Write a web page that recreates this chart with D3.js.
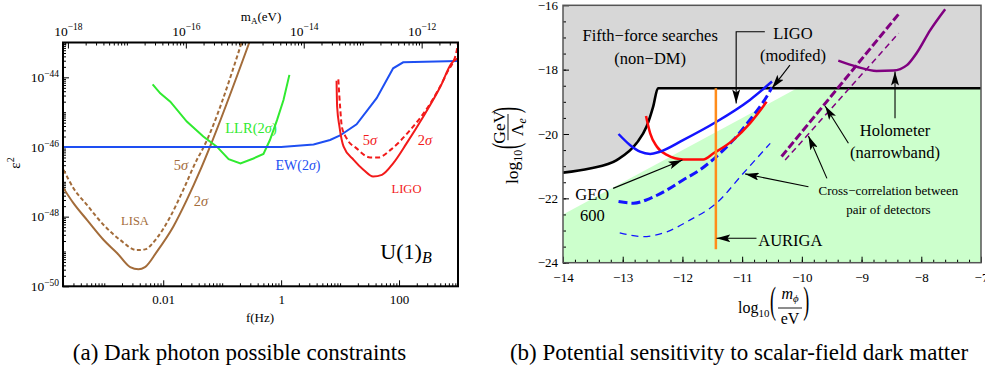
<!DOCTYPE html>
<html>
<head>
<meta charset="utf-8">
<script src="https://cdn.jsdelivr.net/npm/d3@7"></script>
<style>
  body { margin: 0; background: #fff; }
  svg { display: block; }
  svg text { font-family: "Liberation Serif", "Tinos", "Times New Roman", "DejaVu Serif", "Noto Serif", serif !important; }
</style>
</head>
<body>
<svg id="chart" width="985" height="371"></svg>
<script>
// ---------- panel (a): values are [log10 f(Hz), log10 eps^2] ----------
const lisa2sigma = [[-3.69,-47.19],[-3.52,-47.62],[-3.29,-48.10],[-3.01,-48.67],[-2.78,-49.05],[-2.56,-49.45],[-2.42,-49.51],[-2.31,-49.45],[-2.11,-49.01],[-1.83,-48.29],[-1.60,-47.52],[-1.37,-46.66],[-1.23,-46.09],[-0.54,-43.0]];
const lisa5sigma = [[-3.69,-46.66],[-3.52,-47.19],[-3.29,-47.67],[-3.01,-48.24],[-2.73,-48.67],[-2.45,-48.96],[-2.31,-48.94],[-2.11,-48.62],[-1.88,-48.0],[-1.66,-47.23],[-1.43,-46.37],[-1.34,-46.09],[-0.67,-43.0]];
const llr2sigma = [[-2.18,-44.20],[-2.05,-44.46],[-1.88,-44.70],[-1.60,-45.27],[-1.32,-45.70],[-1.09,-45.99],[-0.89,-46.35],[-0.69,-46.47],[-0.47,-46.33],[-0.30,-46.20],[-0.19,-45.80],[-0.07,-45.23],[0.04,-44.65],[0.14,-43.93]];
const ew2sigma = [[-3.7,-46.0],[0.0,-46.0],[0.55,-45.93],[0.83,-45.8],[1.0,-45.67],[1.28,-45.35],[1.62,-44.6],[1.9,-43.74],[2.07,-43.57],[3.0,-43.53]];
const ligo5sigma = [[0.97,-44.06],[1.0,-44.84],[1.03,-45.42],[1.11,-45.75],[1.28,-46.04],[1.51,-46.30],[1.65,-46.30],[1.85,-46.09],[2.19,-45.51],[2.53,-44.75],[2.81,-43.88],[2.98,-43.22],[3.0,-43.0]];
const ligo2sigma = [[0.94,-44.10],[0.95,-44.84],[0.99,-45.42],[1.06,-45.99],[1.23,-46.37],[1.40,-46.66],[1.56,-46.85],[1.71,-46.80],[1.90,-46.47],[2.13,-45.89],[2.41,-45.13],[2.70,-44.27],[2.89,-43.60],[3.0,-43.45]];

const aYTicks = [-50, -48, -46, -44];          // exponents of eps^2
const aXTicks = [0.01, 1, 100];               // Hz
const aTopTicks = [-18, -16, -14, -12];       // exponents of m_A (eV)

// ---------- panel (b): values are [log10 m_phi/eV, log10 GeV/Lambda_e] ----------
const fifthForce = [[-14,-21.2],[-13.55,-21.07],[-13.1,-20.81],[-12.77,-20.29],[-12.6,-19.77],[-12.49,-19.15],[-12.41,-18.58],[-7,-18.58]];
const dmRegion = [[-14,-22.5],[-10.08,-18.58],[-7,-18.58]];
const ligoBlue = [[-13.07,-20.0],[-12.88,-20.34],[-12.71,-20.55],[-12.54,-20.62],[-12.38,-20.55],[-11.99,-20.19],[-11.43,-19.62],[-10.87,-18.94],[-10.5,-18.37]];
const ligoRed = [[-12.61,-19.44],[-12.54,-19.98],[-12.43,-20.39],[-12.26,-20.65],[-11.99,-20.79],[-11.65,-20.79],[-11.48,-20.60],[-11.15,-20.19],[-10.87,-19.67],[-10.59,-19.0]];
const geoThick = [[-13.07,-22.10],[-12.82,-22.15],[-12.54,-22.0],[-12.26,-21.74],[-11.99,-21.43],[-11.71,-21.12],[-11.43,-20.70],[-11.15,-20.19],[-10.87,-19.56],[-10.59,-18.84],[-10.5,-18.55]];
const geoThin = [[-13.05,-23.07],[-12.66,-23.19],[-12.26,-23.04],[-11.87,-22.67],[-11.43,-22.15],[-10.98,-21.22],[-10.53,-20.29]];
const auriga = [[-11.44,-18.58],[-11.44,-23.58]];
const crossThick = [[-10.34,-20.70],[-8.36,-16.23]];
const crossThin = [[-10.28,-20.81],[-8.38,-16.87]];
const holometer = [[-9.39,-17.72],[-9.08,-17.91],[-8.75,-18.04],[-8.47,-18.03],[-8.24,-17.86],[-8.08,-17.49],[-7.85,-16.77],[-7.6,-16.12]];

const bXTicks = [-14, -13, -12, -11, -10, -9, -8, -7];
const bYTicks = [-24, -22, -20, -18, -16];

const SERIF = "Liberation Serif, Tinos, Times New Roman, DejaVu Serif, serif";
const svg = d3.select("#chart").attr("font-family", SERIF);

svg.append("defs").append("marker")
  .attr("id", "arr")
  .attr("viewBox", "0 0 14 8")
  .attr("refX", 14).attr("refY", 4)
  .attr("markerWidth", 14).attr("markerHeight", 8)
  .attr("markerUnits", "userSpaceOnUse")
  .attr("orient", "auto")
  .append("path").attr("d", "M0,0 L14,4 L0,8 L3,4 Z").attr("fill", "#000");

function sup(t, base, e, small) {
  t.text(null);
  t.append("tspan").text(base);
  t.append("tspan").attr("dy", "-0.55em").attr("font-size", small).text("\u2212" + Math.abs(e));
}

// ================= panel (a) =================
const hPlanck = 4.1357e-15;
var xA = d3.scaleLog().domain([Math.pow(10, -3.7), 1e3]).range([63, 458]),
    yA = d3.scaleLog().domain([1e-50, 1e-43]).range([286.3, 42.5]),
    xTop = d3.scaleLog().domain([Math.pow(10, -3.7) * hPlanck, 1e3 * hPlanck]).range([63, 458]);

const ga = svg.append("g");

function logMinor(lo, hi, skip) {
  const v = [];
  for (let k = Math.floor(lo); k <= Math.ceil(hi); k++)
    for (let m = 1; m < 10; m++) {
      const t = m * Math.pow(10, k), l = Math.log10(t);
      if (l >= lo && l <= hi && !skip(k, m)) v.push(t);
    }
  return v;
}

// minor ticks
ga.append("g").attr("transform", "translate(0,286.3)")
  .call(d3.axisBottom(xA).tickValues(logMinor(-3.7, 3, (k, m) => m == 1 && k % 2 == 0)).tickSize(-3).tickFormat(""))
  .call(g => g.select(".domain").remove());
ga.append("g").attr("transform", "translate(63,0)")
  .call(d3.axisLeft(yA).tickValues(logMinor(-50, -43, (k, m) => m == 1 && k % 2 == 0)).tickSize(-3).tickFormat(""))
  .call(g => g.select(".domain").remove());
ga.append("g").attr("transform", "translate(0,42.5)")
  .call(d3.axisTop(xTop).tickValues(logMinor(-18.08, -11.38, (k, m) => m == 1 && k % 2 == 0)).tickSize(-3).tickFormat(""))
  .call(g => g.select(".domain").remove());

// major ticks + labels
ga.append("g").attr("transform", "translate(0,286.3)")
  .call(d3.axisBottom(xA).tickValues(aXTicks).tickSizeInner(-6).tickSizeOuter(0).tickPadding(8)
    .tickFormat(d => d < 1 ? "0.01" : d3.format("d")(d)))
  .attr("font-size", 13).attr("font-family", SERIF)
  .call(g => g.select(".domain").remove());

ga.append("g").attr("transform", "translate(63,0)")
  .call(d3.axisLeft(yA).tickValues(aYTicks.map(e => Math.pow(10, e))).tickSizeInner(-6).tickSizeOuter(0).tickPadding(4))
  .attr("font-size", 13.5).attr("font-family", SERIF)
  .call(g => g.select(".domain").remove())
  .call(g => g.selectAll(".tick text").each(function (d) {
    sup(d3.select(this), "10", Math.round(Math.log10(d)), 9.5);
  }));

ga.append("g").attr("transform", "translate(0,42.5)")
  .call(d3.axisTop(xTop).tickValues(aTopTicks.map(e => Math.pow(10, e))).tickSizeInner(-6).tickSizeOuter(0).tickPadding(7))
  .attr("font-size", 13.5).attr("font-family", SERIF)
  .call(g => g.select(".domain").remove())
  .call(g => g.selectAll(".tick text").each(function (d) {
    sup(d3.select(this), "10", Math.round(Math.log10(d)), 9.5);
  }));

const lineA = d3.line().x(d => xA(Math.pow(10, d[0]))).y(d => yA(Math.pow(10, d[1])));
svg.append("clipPath").attr("id", "clipA").append("rect")
  .attr("x", 63).attr("y", 42.5).attr("width", 395).attr("height", 243.8);
const plotA = ga.append("g").attr("clip-path", "url(#clipA)");

const brown = "#a36c3a", lred = "#f21a1a";
const seriesA = [
  { d: lisa2sigma, c: brown, dash: null, curve: d3.curveMonotoneX },
  { d: lisa5sigma, c: brown, dash: "4,2.5", curve: d3.curveMonotoneX },
  { d: llr2sigma, c: "#30ea30", dash: null, curve: d3.curveLinear },
  { d: ew2sigma, c: "#1e4ff2", dash: null, curve: d3.curveLinear },
  { d: ligo5sigma, c: lred, dash: "5,3", curve: d3.curveMonotoneX },
  { d: ligo2sigma, c: lred, dash: null, curve: d3.curveMonotoneX }
];
seriesA.forEach(s => {
  plotA.append("path")
    .attr("d", lineA.curve(s.curve)(s.d))
    .attr("fill", "none").attr("stroke", s.c).attr("stroke-width", 2)
    .attr("stroke-dasharray", s.dash);
});

ga.append("rect").attr("x", 63).attr("y", 42.5).attr("width", 395).attr("height", 243.8)
  .attr("fill", "none").attr("stroke", "#000").attr("stroke-width", 2);

function sigmaLabel(g, x, y, n, color, size) {
  const t = g.append("text").attr("x", x).attr("y", y).attr("text-anchor", "middle")
    .attr("font-size", size).attr("fill", color);
  t.append("tspan").text(n);
  t.append("tspan").attr("font-style", "italic").text("\u03c3");
  return t;
}
function textLabel(g, x, y, s, color, size) {
  return g.append("text").attr("x", x).attr("y", y).attr("text-anchor", "middle")
    .attr("font-size", size).attr("fill", color).text(s);
}
sigmaLabel(ga, 181, 170, "5", brown, 14.5);
sigmaLabel(ga, 201, 206, "2", brown, 14.5);
textLabel(ga, 135, 225, "LISA", brown, 12.5);
sigmaLabel(ga, 370, 145, "5", lred, 14.5);
sigmaLabel(ga, 425, 145, "2", lred, 14.5);
textLabel(ga, 406.5, 193, "LIGO", lred, 12.5);
{
  const t = ga.append("text").attr("x", 251).attr("y", 133).attr("text-anchor", "middle")
    .attr("font-size", 14.5).attr("fill", "#30ea30");
  t.append("tspan").text("LLR(2");
  t.append("tspan").attr("font-style", "italic").text("\u03c3");
  t.append("tspan").text(")");
  const u = ga.append("text").attr("x", 298).attr("y", 170).attr("text-anchor", "middle")
    .attr("font-size", 14).attr("fill", "#1e4ff2");
  u.append("tspan").text("EW(2");
  u.append("tspan").attr("font-style", "italic").text("\u03c3");
  u.append("tspan").text(")");
  const w = ga.append("text").attr("x", 406).attr("y", 259).attr("text-anchor", "middle").attr("font-size", 22);
  w.append("tspan").text("U(1)");
  w.append("tspan").attr("font-style", "italic").attr("font-size", 16).attr("dy", 4).text("B");
}

// axis titles (a)
{
  const t = ga.append("text").attr("x", 261).attr("y", 21).attr("text-anchor", "middle").attr("font-size", 13);
  t.append("tspan").text("m");
  t.append("tspan").attr("font-size", 9).attr("dy", 3).text("A");
  t.append("tspan").attr("dy", -3).text("(eV)");
  ga.append("text").attr("x", 260).attr("y", 322).attr("text-anchor", "middle").attr("font-size", 13).text("f(Hz)");
  const e = ga.append("text").attr("transform", "translate(20,163) rotate(-90)").attr("text-anchor", "middle").attr("font-size", 15);
  e.append("tspan").text("\u03b5");
  e.append("tspan").attr("font-size", 10).attr("dy", -6).text("2");
}

// ================= panel (b) =================
var xB = d3.scaleLinear().domain([-14, -7]).range([563, 981]),
    yB = d3.scaleLinear().domain([-24, -16]).range([262.7, 5.3]);
const gb = svg.append("g");
svg.append("clipPath").attr("id", "clipB").append("rect")
  .attr("x", 563).attr("y", 5.3).attr("width", 418).attr("height", 257.4);
const plotB = gb.append("g").attr("clip-path", "url(#clipB)");

const lineB = d3.line().x(d => xB(d[0])).y(d => yB(d[1]));

plotB.append("path")
  .attr("d", d3.area().x(d => xB(d[0])).y0(yB(-24)).y1(d => yB(d[1]))(dmRegion))
  .attr("fill", "#ccffcc");
plotB.append("path")
  .attr("d", d3.area().x(d => xB(d[0])).y0(yB(-16)).y1(d => yB(d[1])).curve(d3.curveMonotoneX)(fifthForce))
  .attr("fill", "#d7d7d7");

const seriesB = [
  { d: geoThin, c: "#1414ff", w: 1.3, dash: "7,5", curve: d3.curveMonotoneX },
  { d: geoThick, c: "#1414ff", w: 3, dash: "9,4", curve: d3.curveMonotoneX },
  { d: ligoRed, c: "#ff0a0a", w: 2.5, dash: null, curve: d3.curveMonotoneX },
  { d: ligoBlue, c: "#1414ff", w: 2.5, dash: null, curve: d3.curveMonotoneX },
  { d: auriga, c: "#ff8c1a", w: 2.5, dash: null, curve: d3.curveLinear },
  { d: crossThick, c: "#800080", w: 3, dash: "8,3", curve: d3.curveLinear },
  { d: crossThin, c: "#800080", w: 1.5, dash: "6,4", curve: d3.curveLinear },
  { d: holometer, c: "#800080", w: 2.5, dash: null, curve: d3.curveMonotoneX }
];
plotB.append("path")
  .attr("d", lineB.curve(d3.curveMonotoneX)(fifthForce))
  .attr("fill", "none").attr("stroke", "#000").attr("stroke-width", 2.6);
seriesB.forEach(s => {
  plotB.append("path")
    .attr("d", lineB.curve(s.curve)(s.d))
    .attr("fill", "none").attr("stroke", s.c).attr("stroke-width", s.w)
    .attr("stroke-dasharray", s.dash);
});

// ticks (b)
gb.append("g").attr("transform", "translate(0,262.7)")
  .call(d3.axisBottom(xB).tickValues(d3.range(-14, -7, 0.2)).tickSize(-3).tickFormat(""))
  .call(g => g.select(".domain").remove());
gb.append("g").attr("transform", "translate(563,0)")
  .call(d3.axisLeft(yB).tickValues(d3.range(-24, -16, 0.5)).tickSize(-3).tickFormat(""))
  .call(g => g.select(".domain").remove());
gb.append("g").attr("transform", "translate(0,262.7)")
  .call(d3.axisBottom(xB).tickValues(bXTicks).tickSizeInner(-6).tickSizeOuter(0).tickPadding(10).tickFormat(d3.format("d")))
  .attr("font-size", 13).attr("font-family", SERIF)
  .call(g => g.select(".domain").remove());
gb.append("g").attr("transform", "translate(563,0)")
  .call(d3.axisLeft(yB).tickValues(bYTicks).tickSizeInner(-6).tickSizeOuter(0).tickPadding(5).tickFormat(d3.format("d")))
  .attr("font-size", 13).attr("font-family", SERIF)
  .call(g => g.select(".domain").remove());

gb.append("rect").attr("x", 563).attr("y", 5.3).attr("width", 418).attr("height", 257.4)
  .attr("fill", "none").attr("stroke", "#555").attr("stroke-width", 1.5);

// annotations (b), in data coordinates
const arrowsB = [
  [[-10.62,-16.82],[-11.10,-16.82],[-11.10,-19.05]],
  [[-10.20,-17.86],[-10.50,-18.58]],
  [[-8.44,-19.51],[-8.44,-18.06]],
  [[-9.22,-20.29],[-9.61,-19.13]],
  [[-9.58,-21.38],[-9.89,-20.06]],
  [[-9.89,-21.64],[-10.95,-21.24]],
  [[-13.16,-21.69],[-12.0,-20.81]],
  [[-10.76,-23.24],[-11.43,-23.24]]
];
arrowsB.forEach(a => {
  gb.append("path").attr("d", d3.line().x(d => xB(d[0])).y(d => yB(d[1]))(a))
    .attr("fill", "none").attr("stroke", "#000").attr("stroke-width", 1.1)
    .attr("marker-end", "url(#arr)");
});
const notesB = [
  ["Fifth\u2212force searches", -12.54, -16.92, 16.5, "middle"],
  ["(non\u2212DM)", -12.54, -17.64, 16.5, "middle"],
  ["LIGO", -10.15, -16.86, 16.5, "middle"],
  ["(modifed)", -10.15, -17.54, 16.5, "middle"],
  ["Holometer", -8.44, -19.88, 16.5, "middle"],
  ["(narrowband)", -8.44, -20.56, 16.5, "middle"],
  ["Cross\u2212correlation between", -8.55, -21.76, 13, "middle"],
  ["pair of detectors", -8.55, -22.33, 13, "middle"],
  ["GEO", -13.51, -21.86, 16.5, "middle"],
  ["600", -13.51, -22.52, 16.5, "middle"],
  ["AURIGA", -10.73, -23.29, 16.5, "start"]
];
notesB.forEach(n => {
  gb.append("text").attr("x", xB(n[1])).attr("y", yB(n[2])).attr("dy", "0.35em")
    .attr("text-anchor", n[4]).attr("font-size", n[3]).text(n[0]);
});

// axis titles (b): log10( num / den ) with tall parentheses
function fracLabel(g, fs, num, numSub, den, denSub, italicNum, barY, numY, denY) {
  const t = g.append("text").attr("x", 0).attr("y", 0).attr("font-size", fs);
  t.append("tspan").text("log");
  t.append("tspan").attr("font-size", fs * 0.68).attr("dy", 4).text("10");
  const paren = (x, s) => g.append("text").attr("x", x).attr("y", 0).attr("font-size", 18)
    .attr("transform", "translate(0,-7) scale(1,2.1) translate(0,3.3)").text(s);
  paren(fs * 2.0, "(");
  const cx = fs * 3.25;
  const n = g.append("text").attr("x", cx).attr("y", numY).attr("text-anchor", "middle").attr("font-size", fs);
  n.append("tspan").attr("font-style", italicNum ? "italic" : null).text(num);
  if (numSub) n.append("tspan").attr("font-style", "italic").attr("font-size", fs * 0.68).attr("dy", 3).text(numSub);
  g.append("line").attr("x1", cx - fs * 0.75).attr("x2", cx + fs * 0.75).attr("y1", barY).attr("y2", barY)
    .attr("stroke", "#000").attr("stroke-width", 0.9);
  const d = g.append("text").attr("x", cx).attr("y", denY).attr("text-anchor", "middle").attr("font-size", fs);
  d.append("tspan").text(den);
  if (denSub) d.append("tspan").attr("font-style", "italic").attr("font-size", fs * 0.68).attr("dy", 3).text(denSub);
  paren(fs * 3.95 + 2, ")");
}
fracLabel(gb.append("g").attr("transform", "translate(518,184) rotate(-90)"),
  17.5, "GeV", null, "\u039b", "e", false, -10, -13, 5);
fracLabel(gb.append("g").attr("transform", "translate(738,313)"),
  16, "m", "\u03d5", "eV", null, true, -5, -14, 11);

// captions
svg.append("text").attr("x", 239.5).attr("y", 359.5).attr("text-anchor", "middle").attr("font-size", 23)
  .text("(a) Dark photon possible constraints");
svg.append("text").attr("x", 739).attr("y", 359.5).attr("text-anchor", "middle").attr("font-size", 23)
  .text("(b) Potential sensitivity to scalar-field dark matter");
</script>
</body>
</html>
